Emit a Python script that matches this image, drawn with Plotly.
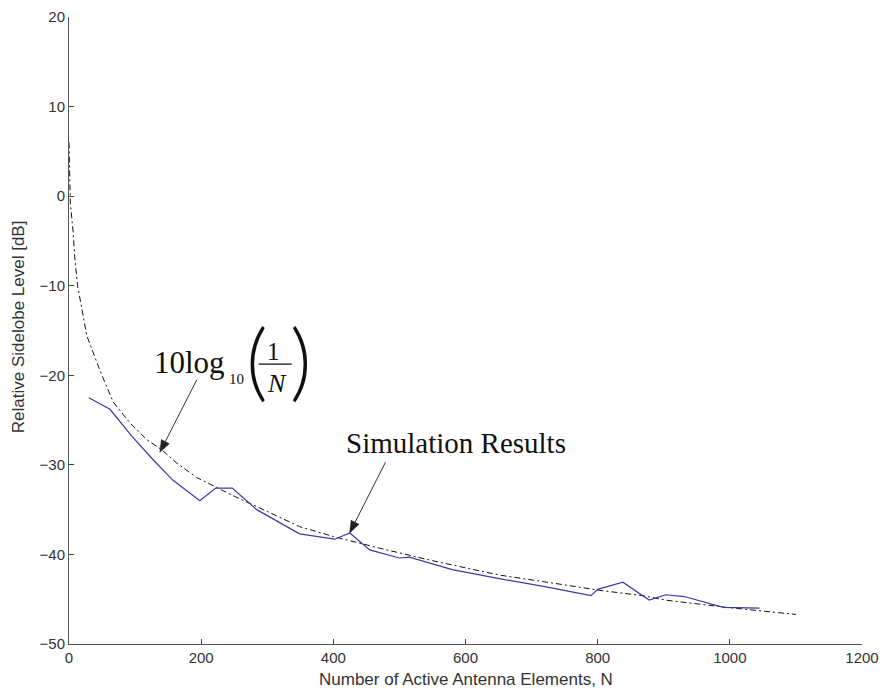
import math
import plotly.graph_objects as go

# Theoretical curve (dash-dot)
theory_n = [0, 2, 6, 9, 13, 17, 21, 27, 47, 67, 92, 118, 140, 163, 193, 250, 300,
            349, 400, 470, 550, 651, 750, 802, 868, 903, 994, 1044, 1100]
theory_db = [6.0, -0.8, -3.8, -7.1, -10.0, -11.6, -13.5, -15.6, -19.5, -23.0, -25.3,
             -27.2, -28.3, -29.8, -31.4, -33.5, -35.2, -36.9, -38.0, -39.3, -40.7,
             -42.3, -43.4, -44.0, -44.6, -45.1, -45.9, -46.3, -46.7]

# Simulation results (solid blue)
sim_n = [30, 62, 95, 127, 157, 198, 222, 247, 284, 349, 402, 425, 455, 500, 515,
         580, 651, 720, 790, 800, 838, 878, 903, 931, 990, 1045]
sim_db = [-22.5, -23.8, -26.8, -29.4, -31.7, -34.0, -32.6, -32.6, -35.0, -37.7,
          -38.3, -37.6, -39.5, -40.4, -40.3, -41.7, -42.7, -43.6, -44.6, -43.9,
          -43.1, -45.1, -44.5, -44.7, -45.9, -46.0]

x_ticks = [0, 200, 400, 600, 800, 1000, 1200]
y_ticks = [-50, -40, -30, -20, -10, 0, 10, 20]

W, H = 884, 691
ML, MR, MT, MB = 69, 22, 17, 47
XR = (0, 1200)
YR = (-50, 20)
px_per_x = (W - ML - MR) / (XR[1] - XR[0])
px_per_y = (H - MT - MB) / (YR[1] - YR[0])

fig = go.Figure()
fig.add_trace(go.Scatter(x=theory_n, y=theory_db, mode="lines",
                         line=dict(color="#111111", width=1, dash="6px,3px,2px,3px"),
                         showlegend=False))
fig.add_trace(go.Scatter(x=sim_n, y=sim_db, mode="lines",
                         line=dict(color="#3a3aa8", width=1.2),
                         showlegend=False))

serif = "Liberation Serif, Times New Roman, serif"
thin = "Lato, sans-serif"
sans = "Liberation Sans, Arial, sans-serif"
ann = []
# formula label
ann.append(dict(x=127, y=-18.6, text="10log", xanchor="left", yanchor="middle", borderpad=0,
                showarrow=False, font=dict(family=serif, size=31, color="#111")))
ann.append(dict(x=240, y=-20.4, text="10", xanchor="left", yanchor="middle", borderpad=0,
                showarrow=False, font=dict(family=serif, size=15, color="#111")))
ann.append(dict(x=266, y=-18.1, text="(", xanchor="left", yanchor="middle", borderpad=0,
                showarrow=False, font=dict(family=thin, size=84, color="#111", weight=300)))
ann.append(dict(x=310, y=-17.3, text="1", xanchor="center", yanchor="middle", borderpad=0,
                showarrow=False, font=dict(family=serif, size=25, color="#111")))
ann.append(dict(x=314, y=-20.9, text="<i>N</i>", xanchor="center", yanchor="middle", borderpad=0,
                showarrow=False, font=dict(family=serif, size=26, color="#111")))
ann.append(dict(x=351, y=-18.1, text=")", xanchor="center", yanchor="middle", borderpad=0,
                showarrow=False, font=dict(family=thin, size=84, color="#111", weight=300)))
ann.append(dict(x=415.6, y=-27.6, text="Simulation Results", xanchor="left", yanchor="middle",
                showarrow=False, font=dict(family=serif, size=29, color="#111")))
# axis titles
ann.append(dict(xref="paper", yref="paper", x=0.5, y=-0.0574,
                text="Number of Active Antenna Elements, N", showarrow=False,
                xanchor="center", yanchor="middle",
                font=dict(family=sans, size=17, color="#333")))
ann.append(dict(xref="paper", yref="paper", x=-0.0637, y=0.506,
                text="Relative Sidelobe Level [dB]", showarrow=False, textangle=-90,
                xanchor="center", yanchor="middle",
                font=dict(family=sans, size=17, color="#333")))

shapes = [dict(type="line", xref="x", yref="y", x0=287, x1=337, y0=-18.75, y1=-18.75,
               line=dict(color="#111", width=1.3))]


def arrow(x0, y0, x1, y1, head_len=12, head_w=4.5):
    """Line from (x0,y0) to tip (x1,y1) in data coords with a filled head."""
    dxp = (x1 - x0) * px_per_x
    dyp = (y1 - y0) * px_per_y
    L = math.hypot(dxp, dyp)
    ux, uy = dxp / L, dyp / L
    bx, by = -head_len * ux, -head_len * uy
    nx, ny = -uy * head_w, ux * head_w
    pts = [(0, 0), (bx + nx, by + ny), (bx - nx, by - ny)]
    d = "M " + " L ".join(f"{x1 + px / px_per_x},{y1 + py / px_per_y}" for px, py in pts) + " Z"
    sx, sy = x1 + bx / px_per_x, y1 + by / px_per_y
    return [dict(type="line", xref="x", yref="y", x0=x0, y0=y0, x1=sx, y1=sy,
                 line=dict(color="#333", width=1)),
            dict(type="path", xref="x", yref="y", path=d, fillcolor="#222",
                 line=dict(color="#222", width=0.5))]


shapes += arrow(193.4, -20.5, 137.5, -28.6)
shapes += arrow(479, -29.7, 424.7, -37.6)

fig.update_layout(
    width=W, height=H,
    margin=dict(l=ML, r=MR, t=MT, b=MB, autoexpand=False),
    paper_bgcolor="white", plot_bgcolor="white",
    annotations=ann, shapes=shapes,
    xaxis=dict(range=list(XR), tickvals=x_ticks, ticks="inside", ticklen=5,
               tickcolor="#444", showline=True, linecolor="#555", linewidth=1,
               showgrid=False, zeroline=False, mirror=False, automargin=False,
               tickfont=dict(family=sans, size=15, color="#333")),
    yaxis=dict(range=list(YR), tickvals=y_ticks, ticks="inside", ticklen=5,
               tickcolor="#444", showline=True, linecolor="#555", linewidth=1,
               showgrid=False, zeroline=False, mirror=False, automargin=False,
               tickfont=dict(family=sans, size=15, color="#333")),
)

fig.write_html("out.html")
